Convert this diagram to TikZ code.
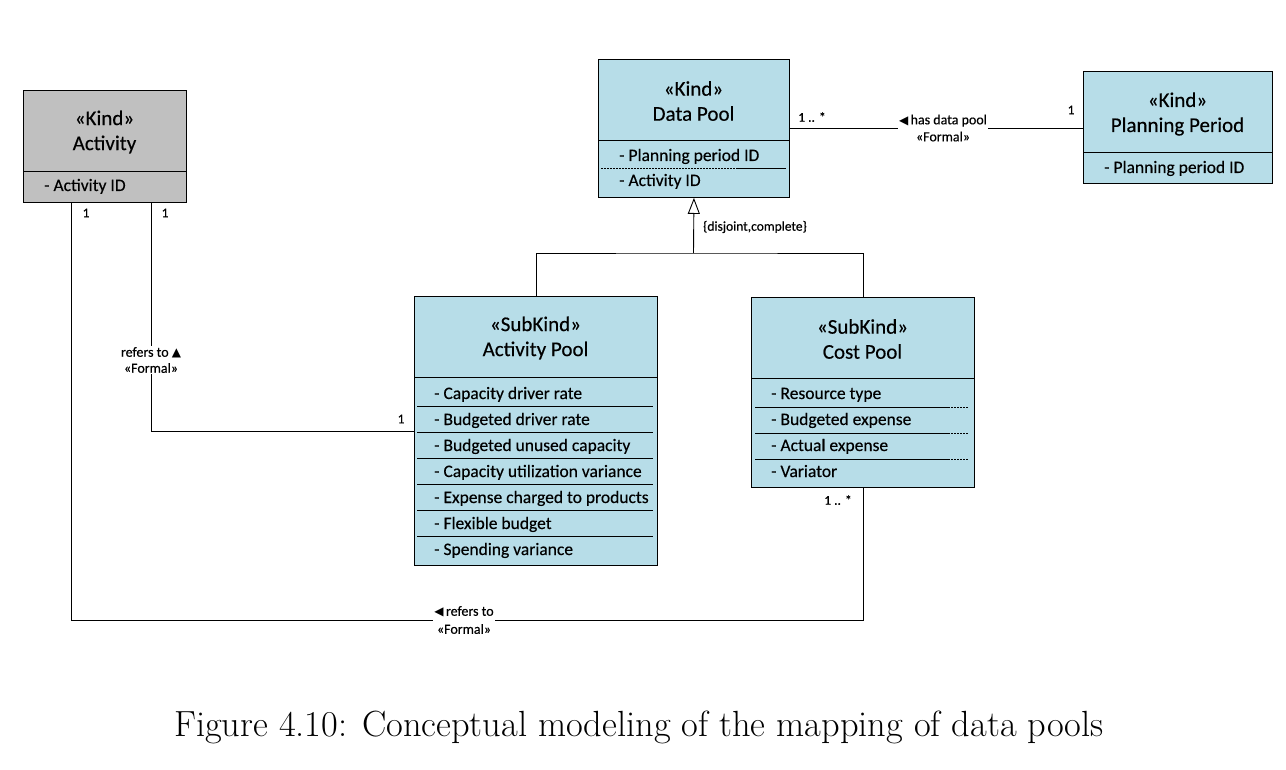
\documentclass[tikz,border=0pt]{standalone}
\usepackage{fontspec}
\newfontfamily\calfont[FakeBold=0.3]{Carlito}
\newfontfamily\symfont{DejaVu Sans}
\usetikzlibrary{arrows.meta}
\definecolor{poolblue}{RGB}{183,221,232}
\definecolor{actgray}{RGB}{192,192,192}
\begin{document}
\begin{tikzpicture}[x=1pt,y=-1pt,
 box/.style={draw, line width=0.9pt, anchor=north west, inner sep=0pt, fill=poolblue},
 title/.style={font=\calfont\fontsize{21}{25}\selectfont, align=center, inner sep=0pt},
 attr/.style={font=\calfont\fontsize{17.5}{18}\selectfont, anchor=west, inner sep=0pt, text height=11pt, text depth=3pt},
 lbl/.style={font=\calfont\fontsize{14}{16}\selectfont, align=center, fill=white, inner sep=1pt},
 mult/.style={font=\calfont\fontsize{13.5}{15}\selectfont, inner sep=0pt},
 conn/.style={line width=0.9pt},
 sepline/.style={line width=0.8pt}]
\useasboundingbox (0,0) rectangle (1286,770);

% boxes
\node[box, fill=actgray, minimum width=163pt, minimum height=112pt] (act) at (23,90) {};
\node[box, minimum width=191pt, minimum height=138pt] (dp) at (598,59) {};
\node[box, minimum width=189pt, minimum height=112pt] (pp) at (1083,71) {};
\node[box, minimum width=243pt, minimum height=269pt] (ap) at (414,296) {};
\node[box, minimum width=223pt, minimum height=190pt] (cp) at (751,297) {};

% titles
\node[title] (actT) at (104.5,132) {«Kind»\\Activity};
\node[title] (dpT) at (693.5,101) {«Kind»\\Data Pool};
\node[title] (ppT) at (1177.5,114) {«Kind»\\Planning Period};
\node[title] (apT) at (535.5,338) {«SubKind»\\Activity Pool};
\node[title] (cpT) at (862.5,339) {«SubKind»\\Cost Pool};

% compartment dividers
\draw[conn] (23,171) -- (186,171);
\draw[conn] (598,140) -- (789,140);
\draw[conn] (1083,152) -- (1272,152);
\draw[conn] (414,377) -- (657,377);
\draw[conn] (751,378) -- (974,378);

% attributes
\node[attr] (a1) at (44,187) {- Activity ID};
\node[attr] (d1) at (619,157) {- Planning period ID};
\node[attr] (d2) at (619,182) {- Activity ID};
\node[attr] (p1) at (1104,169) {- Planning period ID};
\node[attr] (ap1) at (434,395) {- Capacity driver rate};
\node[attr] (ap2) at (434,421) {- Budgeted driver rate};
\node[attr] (ap3) at (434,447) {- Budgeted unused capacity};
\node[attr] (ap4) at (434,473) {- Capacity utilization variance};
\node[attr] (ap5) at (434,499) {- Expense charged to products};
\node[attr] (ap6) at (434,525) {- Flexible budget};
\node[attr] (ap7) at (434,551) {- Spending variance};
\node[attr] (cp1) at (771,395) {- Resource type};
\node[attr] (cp2) at (771,421) {- Budgeted expense};
\node[attr] (cp3) at (771,447) {- Actual expense};
\node[attr] (cp4) at (771,473) {- Variator};

% attribute separators
\draw[sepline, dash pattern=on 2pt off 1pt] (601,168) -- (736,168);
\draw[sepline] (736,168) -- (786,168);
\foreach \yy in {406,432,458,484,510,536} {\draw[sepline] (417,\yy) -- (653,\yy);}
\foreach \yy in {407,433,459} {
  \draw[sepline] (755,\yy) -- (948,\yy);
  \draw[sepline, dash pattern=on 2pt off 1pt] (948,\yy) -- (968,\yy);}

% has data pool
\draw[conn] (dp.east) -- (dp.east -| pp.west);
\node[lbl, font=\calfont\fontsize{14}{17}\selectfont] (l0) at (943,128) {{\symfont\fontsize{12}{12}\selectfont ◀}\,has data pool\\«Formal»};
\node[mult] (m1) at (812,117) {1 .. *};
\node[mult] (m2) at (1071,110) {1};

% generalization
\coordinate (g) at (693.5,253);
\draw[conn] (ap.north) |- (g) -| (cp.north);
\draw[conn, -{Triangle[open, length=16pt, width=12pt, fill=white]}] (g) -- (dp.south);
\node[mult] (gl) at (755,227) {\{disjoint,complete\}};

% activity -> activity pool
\coordinate (c1) at (151,431);
\draw[conn] (act.south -| c1) -- (c1) -- (ap.west |- c1);
\node[lbl] (l1) at (151,360) {refers to {\symfont\fontsize{12}{12}\selectfont ▲}\\«Formal»};
\node[mult] (m3) at (165,213) {1};
\node[mult] (m4) at (401,419) {1};

% activity -> cost pool
\coordinate (c2) at (71,620);
\draw[conn] (act.south -| c2) -- (c2) -| (cp.south);
\node[lbl, font=\calfont\fontsize{14}{18}\selectfont] (l2) at (464,620) {{\symfont\fontsize{12}{12}\selectfont ◀}\,refers to\\«Formal»};
\node[mult] (m5) at (86,213) {1};
\node[mult] (m6) at (838,500) {1 .. *};

% caption
\node[inner sep=0pt, font=\fontsize{36.4}{40}\selectfont] (cap) at (639,727) {Figure 4.10: Conceptual modeling of the mapping of data pools};
\end{tikzpicture}
\end{document}
